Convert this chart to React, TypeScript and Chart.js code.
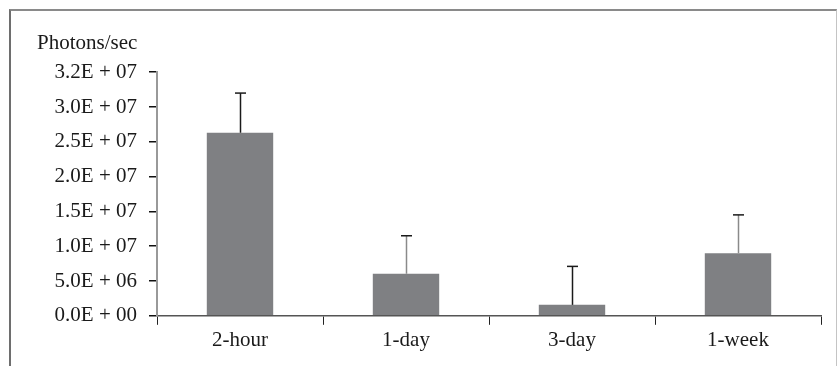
import React, { useEffect, useRef } from "react";
import { Chart, registerables } from "chart.js";

Chart.register(...registerables);

const categories = ["2-hour", "1-day", "3-day", "1-week"];
const photonMeans = [2.63e7, 6.04e6, 1.57e6, 9.0e6];
const photonErrors = [5.7e6, 5.46e6, 5.53e6, 5.5e6];
const yTickLabels = [
  "0.0E + 00",
  "5.0E + 06",
  "1.0E + 07",
  "1.5E + 07",
  "2.0E + 07",
  "2.5E + 07",
  "3.0E + 07",
  "3.2E + 07",
];
const errorLineColors = ["#1a1a1a", "#8a8a8a", "#1a1a1a", "#8a8a8a"];

const FONT = "'Liberation Serif', 'Times New Roman', serif";

const errorBarPlugin = {
  id: "errorBars",
  afterDatasetsDraw(chart: any) {
    const meta = chart.getDatasetMeta(0);
    const yScale = chart.scales.y;
    const ctx = chart.ctx;
    ctx.save();
    meta.data.forEach((bar: any, i: number) => {
      const top = yScale.getPixelForValue(photonMeans[i] + photonErrors[i]);
      const x = Math.round(bar.x) + 0.5;
      ctx.beginPath();
      ctx.strokeStyle = errorLineColors[i];
      ctx.lineWidth = 1.5;
      ctx.moveTo(x, bar.y);
      ctx.lineTo(x, top);
      ctx.stroke();
      ctx.beginPath();
      ctx.strokeStyle = "#1a1a1a";
      ctx.lineWidth = 1.5;
      ctx.moveTo(x - 5.5, top);
      ctx.lineTo(x + 5.5, top);
      ctx.stroke();
    });
    ctx.restore();
  },
};

export default function App() {
  const canvasRef = useRef<HTMLCanvasElement | null>(null);

  useEffect(() => {
    if (!canvasRef.current) return;
    const chart = new Chart(canvasRef.current, {
      type: "bar",
      data: {
        labels: categories,
        datasets: [
          {
            data: photonMeans,
            backgroundColor: "#7f8083",
            borderWidth: 0,
            categoryPercentage: 1,
            barPercentage: 0.4,
          },
        ],
      },
      options: {
        animation: false,
        responsive: true,
        maintainAspectRatio: false,
        layout: { padding: { left: 26, right: 15, top: 0, bottom: 10 } },
        plugins: {
          legend: { display: false },
          tooltip: { enabled: false },
          title: {
            display: true,
            text: "Photons/sec",
            align: "start",
            color: "#1a1a1a",
            font: { family: FONT, size: 21, weight: "normal" },
            padding: { top: 20, bottom: 16 },
          },
        },
        scales: {
          x: {
            offset: true,
            grid: {
              offset: true,
              drawOnChartArea: false,
              tickLength: 9,
              tickColor: "#222",
              lineWidth: 1,
            },
            border: { color: "#555", width: 1.5 },
            ticks: {
              color: "#1a1a1a",
              padding: 3,
              font: { family: FONT, size: 21 },
            },
          },
          y: {
            min: 0,
            max: 3.5e7,
            afterFit(scale: any) {
              scale.width = 120;
            },
            grid: {
              drawOnChartArea: false,
              tickLength: 8,
              tickColor: "#111",
              lineWidth: 1.5,
            },
            border: { color: "#999", width: 2 },
            ticks: {
              stepSize: 5e6,
              color: "#1a1a1a",
              padding: 12,
              font: { family: FONT, size: 21 },
              callback: (_v: any, i: number) => yTickLabels[i],
            },
          },
        },
      },
      plugins: [errorBarPlugin],
    });
    return () => chart.destroy();
  }, []);

  return (
    <div
      style={{
        position: "fixed",
        left: 9,
        top: 9,
        width: 825,
        height: 357,
        borderTop: "2px solid #8a8a8a",
        borderLeft: "2px solid #6e6e6e",
        borderRight: "1px solid #c4c4c4",
        background: "#fff",
      }}
    >
      <div style={{ position: "relative", width: 825, height: 355 }}>
        <canvas ref={canvasRef} />
      </div>
    </div>
  );
}
